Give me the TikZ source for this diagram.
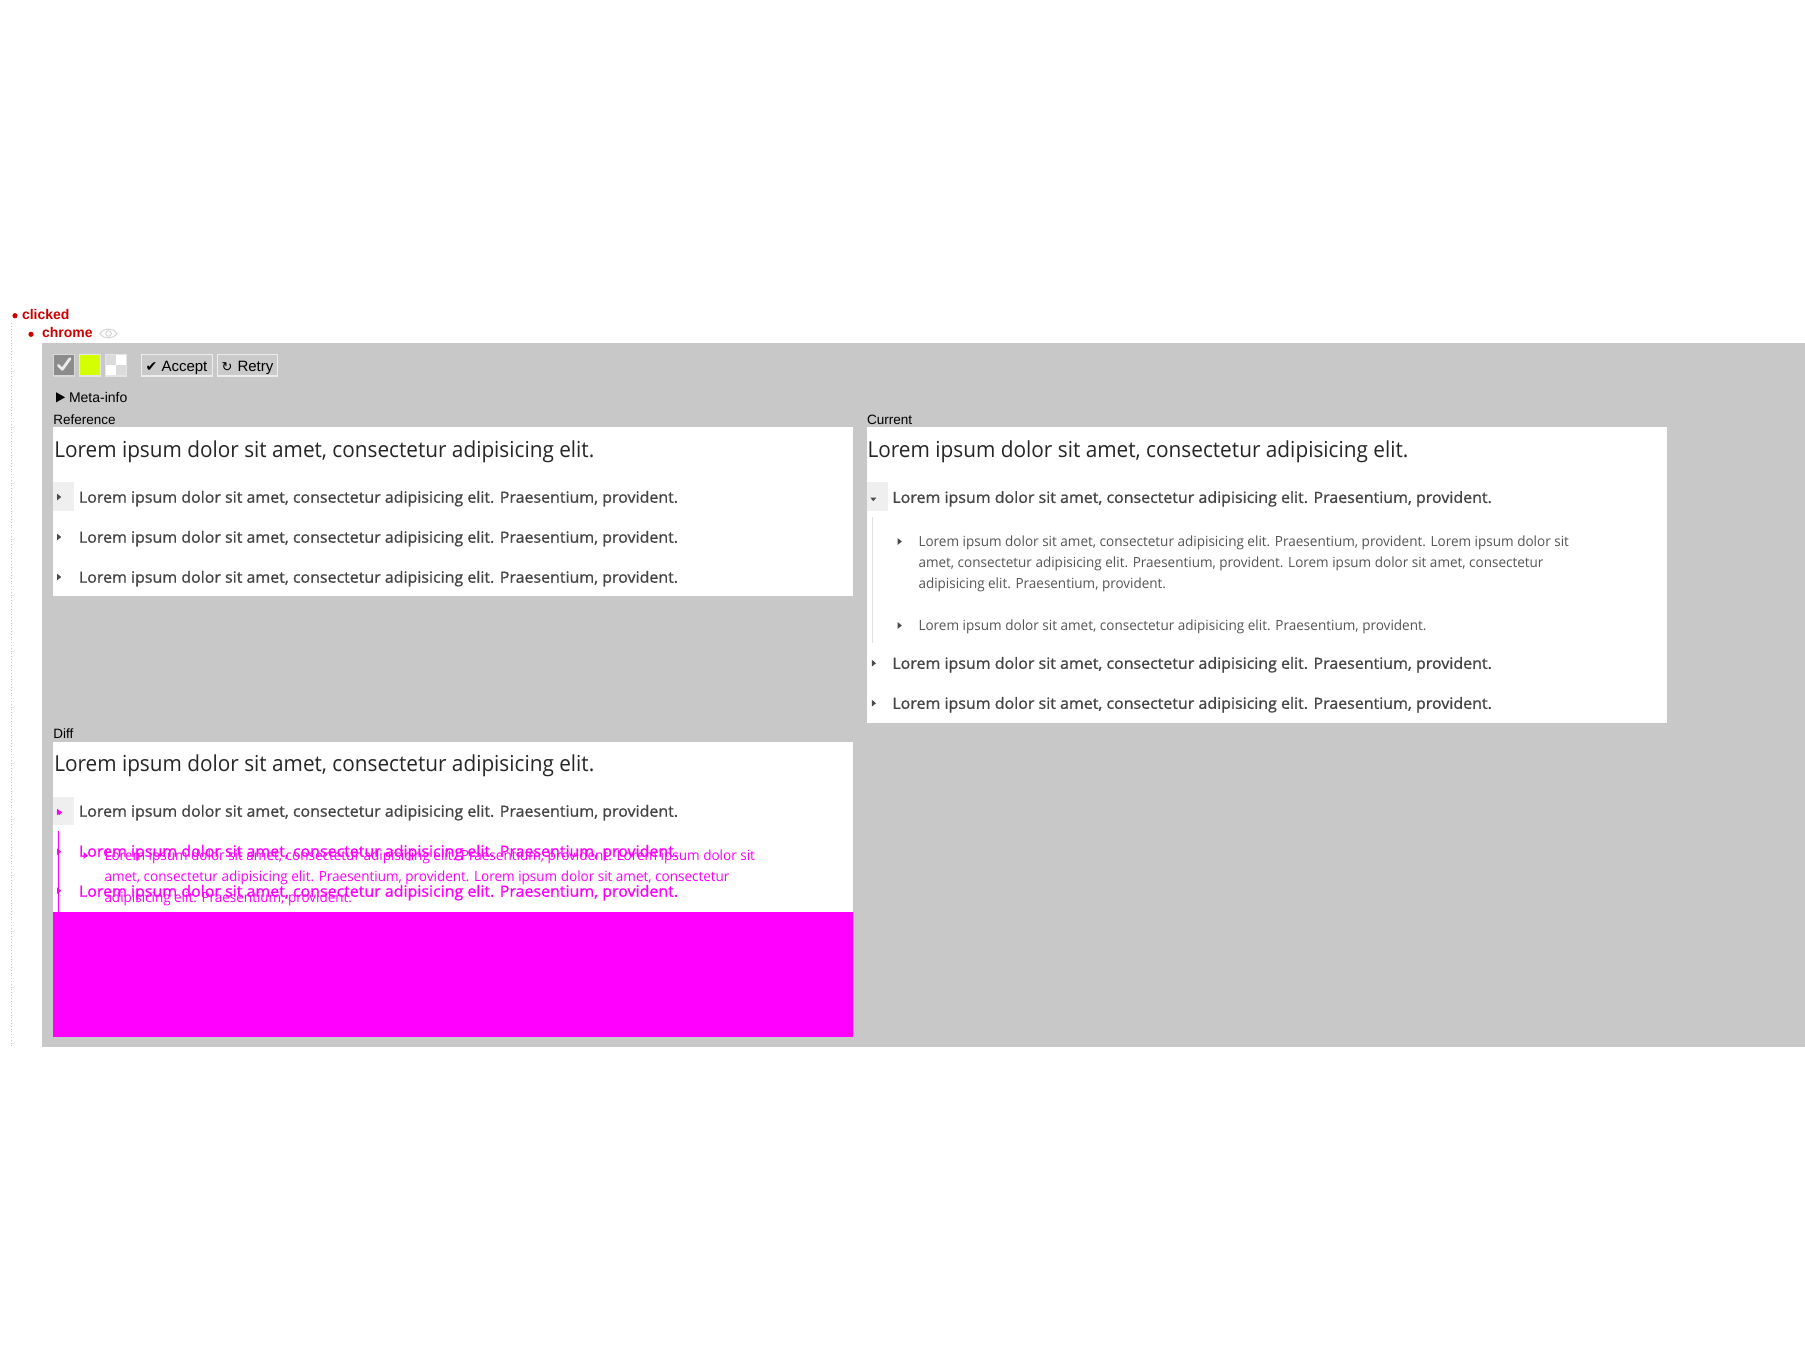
\documentclass[tikz,border=0pt]{standalone}
\usepackage{fontspec}
\usepackage{graphicx}
\setmainfont{Liberation Sans}
\newfontfamily\loremf{Open Sans}
\newfontface\loremb{Open Sans}[FakeBold=1.0]
\newfontfamily\dejavu{DejaVu Sans}
\definecolor{panelgrey}{HTML}{C8C8C8}
\definecolor{hilite}{HTML}{EFEFEF}
\definecolor{headc}{HTML}{262626}
\definecolor{itemc}{HTML}{454545}
\definecolor{subc}{HTML}{555555}
\definecolor{tric}{HTML}{4A4A4A}
\definecolor{mag}{HTML}{FF00FF}
\definecolor{redc}{HTML}{CC0000}
\definecolor{lime}{HTML}{D4FF00}
\definecolor{btnfill}{HTML}{CACACA}
\definecolor{btnedge}{HTML}{EDEDED}
\definecolor{chkfill}{HTML}{8C8C8C}
\newcommand\fw[2]{\resizebox{#1pt}{\height}{#2}}
\newcommand\LHead{Lorem ipsum dolor sit amet, consectetur adipisicing elit.}
\newcommand\LItem{Lorem ipsum dolor sit amet, consectetur adipisicing elit. Praesentium, provident.}
\newcommand\hfnt{\loremf\fontsize{22}{26}\selectfont}
\newcommand\ifnt{\loremb\fontsize{15.5}{19}\selectfont}
\newcommand\sfnt{\loremf\fontsize{14}{17}\selectfont}
\newcommand\rtri[3]{\fill[#3] (#1-2,#2-3.4) -- (#1+2.2,#2) -- (#1-2,#2+3.4) -- cycle;}
\newcommand\dtri[3]{\fill[#3] (#1-3,#2-1.7) -- (#1+3,#2-1.7) -- (#1,#2+1.9) -- cycle;}
\tikzset{
  txt/.style={anchor=base west, inner sep=0pt, outer sep=0pt},
  uitxt/.style={txt, font=\fontsize{13.5}{16}\selectfont},
  btn/.style={fill=btnfill, draw=btnedge, line width=1.2pt},
}
\begin{document}
\begin{tikzpicture}[x=1pt,y=-1pt]
\useasboundingbox (0,0) rectangle (1805,1353);
\fill[white] (0,0) rectangle (1805,1353);
% tree
\draw[gray!45, dotted, line width=0.8pt] (11,323) -- (11,1046);
\fill[redc] (15,315.7) circle (2.6);
\node[txt, text=redc, font=\bfseries\fontsize{14}{16}\selectfont] (clicked) at (22,319.3) {clicked};
\fill[redc] (31,334.3) circle (2.6);
\node[txt, text=redc, font=\bfseries\fontsize{14}{16}\selectfont] (chrome) at (42,337.6) {chrome};
\draw[gray!35, line width=0.9pt] (100,333.5) .. controls (104,327.5) and (113,327.5) .. (117,333.5) .. controls (113,339.5) and (104,339.5) .. (100,333.5) -- cycle;
\draw[gray!35, line width=0.9pt] (108.5,333.5) circle (2.8);
% main panel
\fill[panelgrey] (42,343.3) rectangle (1805,1046.5);
% toolbar
\draw[fill=chkfill, draw=gray!30, line width=1.2pt] (53.5,354.2) rectangle (74.3,376);
\draw[white!85!gray, line width=2.8pt, line cap=round, line join=round] (58.3,365.3) -- (62.3,369.3) -- (70,358.6);
\draw[fill=lime, draw=gray!20, line width=1.2pt] (79.5,354.2) rectangle (100.3,376);
\draw[fill=white, draw=gray!20, line width=1.2pt] (105.3,354.2) rectangle (126.5,376);
\fill[gray!28] (106,355) rectangle (115.9,365.1);
\fill[gray!28] (115.9,365.1) rectangle (125.8,375.2);
\draw[btn] (141.3,354.2) rectangle (212.7,376);
\node[txt, font=\dejavu\fontsize{14}{16}\selectfont] (acheck) at (145.5,371.3) {✔};
\node[txt, font=\fontsize{15}{17}\selectfont] (accept) at (161.5,371.3) {Accept};
\draw[btn] (217.3,354.2) rectangle (277.7,376);
\node[txt, font=\dejavu\fontsize{13}{16}\selectfont] (rarrow) at (221.5,371.3) {↻};
\node[txt, font=\fontsize{15}{17}\selectfont] (retry) at (237.5,371.3) {Retry};
% meta-info
\fill[black] (56.2,392.3) -- (65,397.3) -- (56.2,402.3) -- cycle;
\node[txt, font=\fontsize{14}{16}\selectfont] (meta) at (69,402.3) {Meta-info};
% labels
\node[uitxt] (lref) at (53.3,424) {Reference};
\node[uitxt] (lcur) at (867,424) {Current};
\node[uitxt] (ldiff) at (53.3,738.5) {Diff};
% ---------- reference panel
\fill[white] (53,427) rectangle (853,596);
\fill[hilite] (52.5,481.7) rectangle (74,511);
\node[txt, text=headc] (rh) at (54.3,457.3) {\fw{540}{\hfnt\LHead}};
\rtri{59}{497}{tric}
\node[txt, text=itemc] (ri1) at (79,502.7) {\fw{599}{\ifnt\LItem}};
\rtri{59}{537}{tric}
\node[txt, text=itemc] (ri2) at (79,542.7) {\fw{599}{\ifnt\LItem}};
\rtri{59}{577}{tric}
\node[txt, text=itemc] (ri3) at (79,582.7) {\fw{599}{\ifnt\LItem}};
% ---------- current panel
\fill[white] (867,427) rectangle (1667,723);
\fill[hilite] (867,482) rectangle (888,511);
\node[txt, text=headc] (ch) at (867.5,457.3) {\fw{541}{\hfnt\LHead}};
\dtri{873.3}{499.3}{tric}
\node[txt, text=itemc] (ci1) at (892.4,502.9) {\fw{599.4}{\ifnt\LItem}};
\draw[gray!25, line width=1pt] (872.3,517) -- (872.3,643);
\rtri{899.6}{541.5}{tric}
\node[txt, text=subc] (cs1a) at (918.5,546.7) {\fw{650.5}{\sfnt Lorem ipsum dolor sit amet, consectetur adipisicing elit. Praesentium, provident. Lorem ipsum dolor sit}};
\node[txt, text=subc] (cs1b) at (918.5,567.6) {\fw{625}{\sfnt amet, consectetur adipisicing elit. Praesentium, provident. Lorem ipsum dolor sit amet, consectetur}};
\node[txt, text=subc] (cs1c) at (918.5,588.5) {\fw{247.5}{\sfnt adipisicing elit. Praesentium, provident.}};
\rtri{899.6}{625.5}{tric}
\node[txt, text=subc] (cs2) at (918.5,630.4) {\fw{508}{\sfnt\LItem}};
\rtri{873.8}{663.2}{tric}
\node[txt, text=itemc] (ci2) at (892.4,668.8) {\fw{599.4}{\ifnt\LItem}};
\rtri{873.8}{703.2}{tric}
\node[txt, text=itemc] (ci3) at (892.4,708.8) {\fw{599.4}{\ifnt\LItem}};
% ---------- diff panel
\fill[white] (53,741.5) rectangle (853,912);
\fill[mag] (53,911.7) rectangle (853,1037.3);
\fill[hilite] (52.5,797) rectangle (74,825);
\node[txt, text=headc] (dh) at (54.3,771.3) {\fw{540}{\hfnt\LHead}};
\rtri{59}{812}{mag}
\dtri{59.3}{813.3}{mag}
\node[txt, text=itemc] (di1) at (79,816.7) {\fw{599}{\ifnt\LItem}};
\draw[mag, line width=1.2pt] (58.2,831) -- (58.2,912);
\rtri{59}{851.7}{mag}
\rtri{59}{890.7}{mag}
\rtri{85.6}{855.5}{mag}
\node[txt, text=mag] (dsa) at (104.5,860.7) {\fw{650.5}{\sfnt Lorem ipsum dolor sit amet, consectetur adipisicing elit. Praesentium, provident. Lorem ipsum dolor sit}};
\node[txt, text=mag] (dsb) at (104.5,881.6) {\fw{625}{\sfnt amet, consectetur adipisicing elit. Praesentium, provident. Lorem ipsum dolor sit amet, consectetur}};
\node[txt, text=mag] (dsc) at (104.5,902.5) {\fw{247.5}{\sfnt adipisicing elit. Praesentium, provident.}};
\node[txt, text=mag] (di2) at (79,856.7) {\fw{599}{\ifnt\LItem}};
\node[txt, text=mag] (di3) at (79,896.7) {\fw{599}{\ifnt\LItem}};
\end{tikzpicture}
\end{document}
